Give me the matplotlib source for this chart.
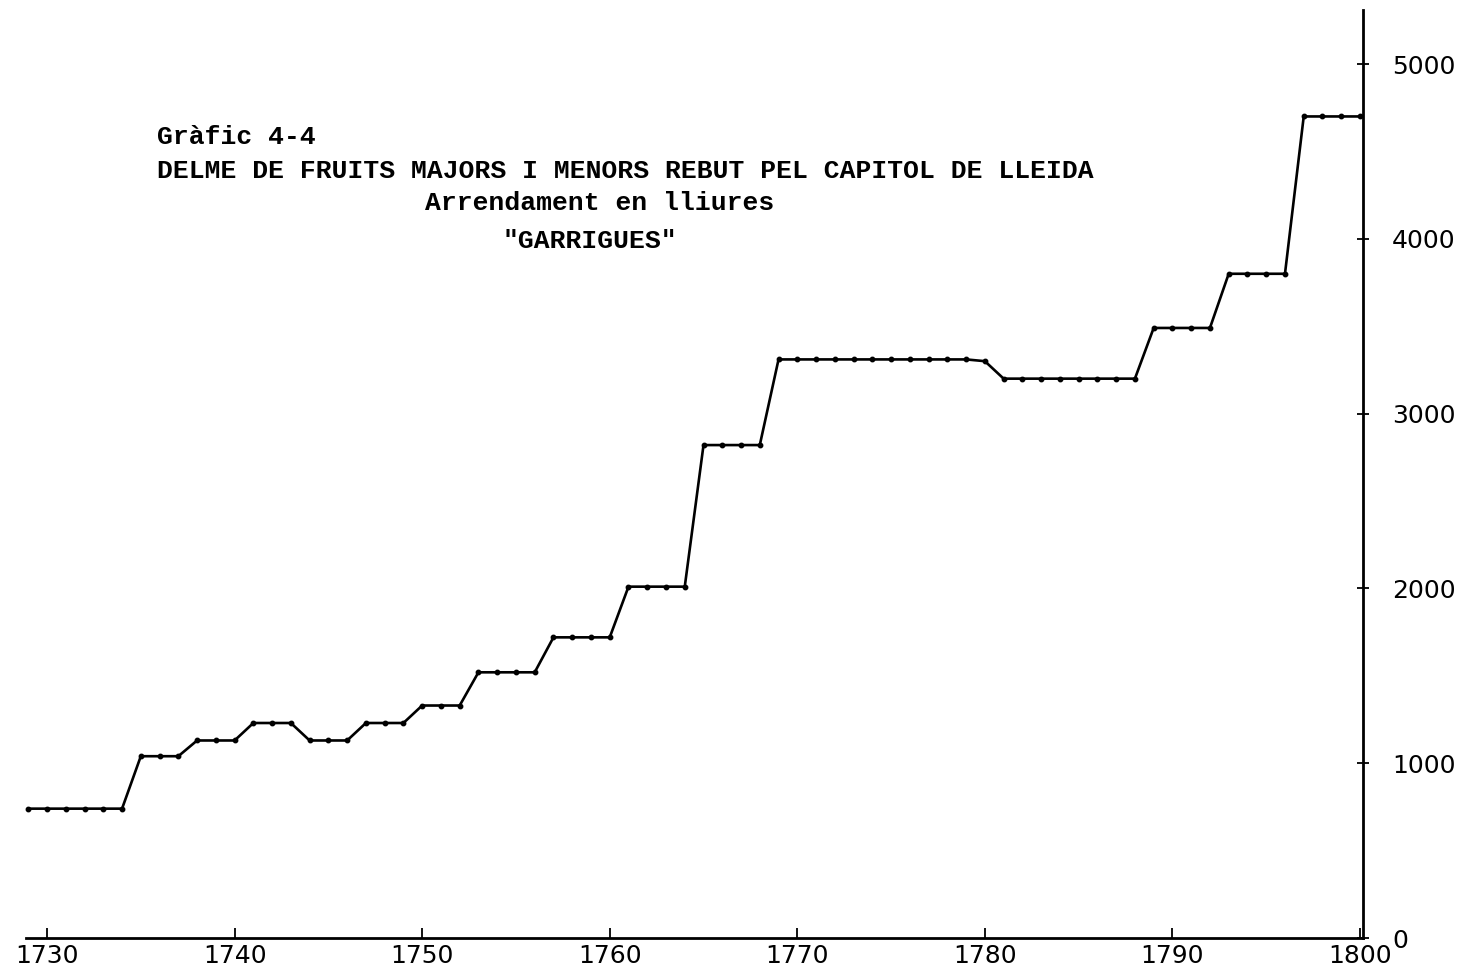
import numpy as np
from matplotlib import pyplot as plt


# yearly lease values (lliures)
years = list(range(1729, 1801))
values = [740, 740, 740, 740, 740, 740,
          1040, 1040, 1040,
          1130, 1130, 1130,
          1230, 1230, 1230,
          1130, 1130, 1130,
          1230, 1230, 1230,
          1330, 1330, 1330,
          1520, 1520, 1520, 1520,
          1720, 1720, 1720, 1720,
          2010, 2010, 2010, 2010,
          2820, 2820, 2820, 2820,
          3310, 3310, 3310, 3310, 3310, 3310, 3310, 3310, 3310, 3310, 3310, 3300,
          3200, 3200, 3200, 3200, 3200, 3200, 3200, 3200,
          3490, 3490, 3490, 3490,
          3800, 3800, 3800, 3800,
          4700, 4700, 4700, 4700]

xticks = [1730, 1740, 1750, 1760, 1770, 1780, 1790, 1800]
yticks = [0, 1000, 2000, 3000, 4000, 5000]

title_lines = ["Gràfic 4-4",
               "DELME DE FRUITS MAJORS I MENORS REBUT PEL CAPITOL DE LLEIDA",
               "Arrendament en lliures",
               "\"GARRIGUES\""]

W, H = 1461, 972
fig = plt.figure(figsize=(W / 100, H / 100), dpi=100)

left_px, right_px = 26.4, 1363
bottom_px, top_px = 938, 10
ax = fig.add_axes([left_px / W, 1 - bottom_px / H,
                   (right_px - left_px) / W, (bottom_px - top_px) / H])

ax.plot(years, values, color='black', lw=1.9, marker='o', markersize=3.2,
        clip_on=False, zorder=3)

ax.set_xlim(1728.9, 1800.16)
ax.set_ylim(0, 5309)

for s in ['left', 'top']:
    ax.spines[s].set_visible(False)
for s in ['right', 'bottom']:
    ax.spines[s].set_linewidth(2.0)
    ax.spines[s].set_color('black')

ax.yaxis.tick_right()
ax.set_xticks(xticks)
ax.set_yticks(yticks)
ax.tick_params(axis='x', direction='in', length=7, width=1.3, pad=4,
               labelsize=18)
ax.tick_params(axis='y', direction='inout', length=8, width=1.3, pad=17,
               labelsize=18)
for lab in ax.get_xticklabels() + ax.get_yticklabels():
    lab.set_family('DejaVu Sans')

# typewritten heading
pos = [(157, 137), (157, 171), (425, 203), (503, 241)]
for txt, (px, py) in zip(title_lines, pos):
    fig.text(px / W, 1 - py / H, txt, ha='left', va='center',
             fontsize=19, family='Liberation Mono', weight='bold')

fig.savefig('out.png', dpi=100, facecolor='white')
